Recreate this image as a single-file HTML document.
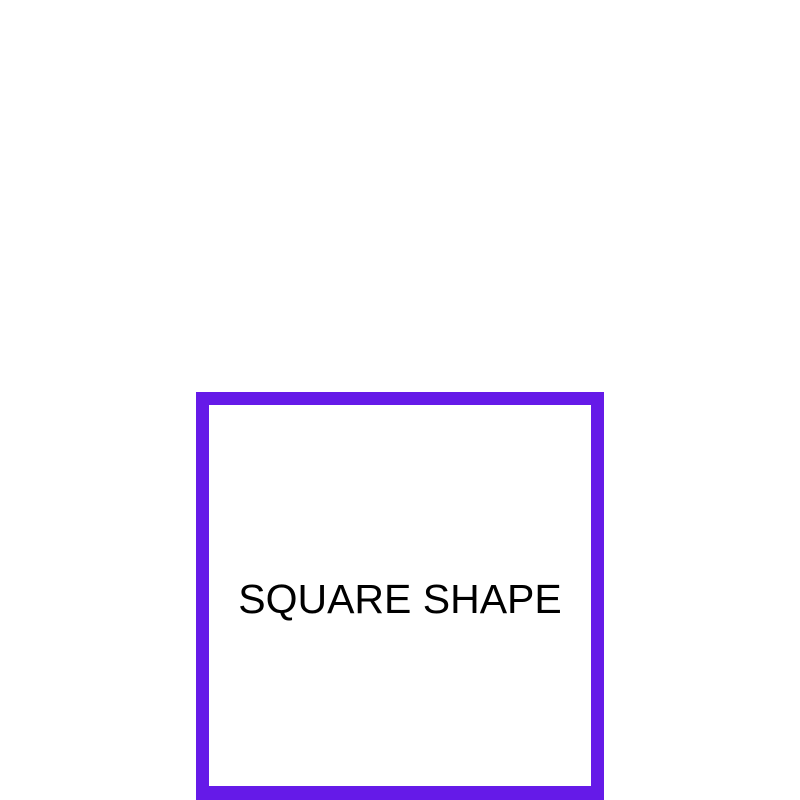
<!DOCTYPE html>
<html><head><meta charset="utf-8"><style>
html,body{margin:0;padding:0;background:#fff;width:800px;height:800px;overflow:hidden;position:relative}
#sq{position:absolute;left:196px;top:392px;width:408px;height:408px;box-sizing:border-box;border:13px solid #651ae8;border-bottom-width:14px;background:#fff}
#lbl{position:absolute;left:0;width:800px;top:572px;text-align:center;font-family:"Liberation Sans",sans-serif;font-size:41px;line-height:54px;color:#000;letter-spacing:0px}
</style></head><body>
<div id="sq"></div>
<div id="lbl">SQUARE SHAPE</div>
</body></html>
